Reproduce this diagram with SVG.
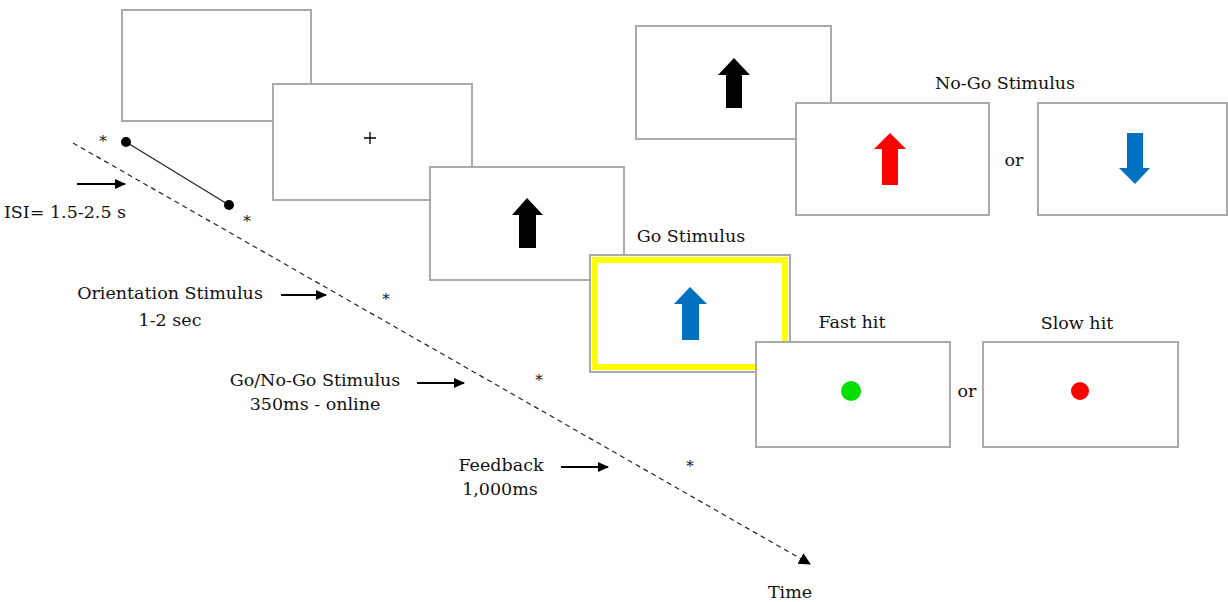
<svg xmlns="http://www.w3.org/2000/svg" width="1228" height="602" viewBox="0 0 1228 602">
<defs>
<style>
.box{fill:#fff;stroke:#aaa;stroke-width:2}
.t{font-family:"DejaVu Serif","Liberation Serif",serif;font-size:17.5px;fill:#111;text-anchor:middle}
.ast{font-family:"DejaVu Serif","Liberation Serif",serif;font-size:15px;fill:#111;text-anchor:middle}
.arr{stroke:#000;stroke-width:2;fill:none}
</style>
<marker id="ah" markerWidth="12" markerHeight="12" refX="10" refY="6" orient="auto" markerUnits="userSpaceOnUse">
<path d="M0,1 L11,6 L0,11 Z" fill="#000"/>
</marker>
<marker id="ah2" markerWidth="14" markerHeight="14" refX="11" refY="6" orient="auto" markerUnits="userSpaceOnUse">
<path d="M0,0 L12,6 L0,12 Z" fill="#000"/>
</marker>
</defs>
<rect width="1228" height="602" fill="#fff"/>

<g id="connectors">
<line x1="73" y1="143" x2="810" y2="564" stroke="#222" stroke-width="1.2" stroke-dasharray="5,4" marker-end="url(#ah2)"/>
<line x1="126" y1="142" x2="229" y2="205" stroke="#222" stroke-width="1.2"/>
<circle cx="126" cy="142" r="5" fill="#000"/>
<circle cx="229" cy="205" r="5" fill="#000"/>
<line class="arr" x1="77" y1="184" x2="125" y2="184" marker-end="url(#ah)"/>
<line class="arr" x1="281" y1="295" x2="326" y2="295" marker-end="url(#ah)"/>
<line class="arr" x1="417" y1="383" x2="464" y2="383" marker-end="url(#ah)"/>
<line class="arr" x1="561" y1="467" x2="608" y2="467" marker-end="url(#ah)"/>
</g>

<g id="asterisks">
<text class="ast" x="103" y="146">*</text>
<text class="ast" x="247" y="226">*</text>
<text class="ast" x="386" y="304">*</text>
<text class="ast" x="539" y="385">*</text>
<text class="ast" x="690" y="471">*</text>
</g>

<g id="labels">
<text class="t" x="65" y="218">ISI= 1.5-2.5 s</text>
<text class="t" x="170" y="299">Orientation Stimulus</text>
<text class="t" x="170" y="326">1-2 sec</text>
<text class="t" x="315" y="386">Go/No-Go Stimulus</text>
<text class="t" x="315" y="410">350ms - online</text>
<text class="t" x="501" y="471">Feedback</text>
<text class="t" x="500" y="495">1,000ms</text>
<text class="t" x="790" y="598">Time</text>
</g>

<g id="blank">
<rect class="box" x="122" y="10" width="189" height="111"/>
</g>
<g id="fixation">
<rect class="box" x="273" y="84" width="199" height="116"/>
<path d="M364,138 H376 M370,132 V144" stroke="#000" stroke-width="1.3"/>
</g>
<g id="orientation">
<rect class="box" x="430" y="167" width="194" height="113"/>
<path d="M527,198 L543,215 L536,215 L536,248 L519,248 L519,215 L512,215 Z" fill="#000"/>
</g>
<g id="go">
<rect class="box" x="590" y="255" width="200" height="117"/>
<rect x="595" y="260" width="190" height="107" fill="none" stroke="#ffff00" stroke-width="6"/>
<path d="M690,287 L707,304 L699,304 L699,340 L682,340 L682,304 L674,304 Z" fill="#0070c0"/>
<text class="t" x="691" y="242">Go Stimulus</text>
</g>
<g id="fast-hit">
<rect class="box" x="756" y="342" width="194" height="105"/>
<circle cx="851" cy="391" r="10" fill="#00e000"/>
<text class="t" x="852" y="328">Fast hit</text>
</g>
<text class="t" x="967" y="397">or</text>
<g id="slow-hit">
<rect class="box" x="983" y="342" width="195" height="105"/>
<circle cx="1080" cy="391" r="9" fill="#ff0000"/>
<text class="t" x="1077" y="329">Slow hit</text>
</g>
<g id="orientation-top">
<rect class="box" x="636" y="26" width="195" height="113"/>
<path d="M734,58 L750,75 L742,75 L742,108 L726,108 L726,75 L718,75 Z" fill="#000"/>
</g>
<g id="nogo-red">
<rect class="box" x="796" y="103" width="193" height="112"/>
<path d="M890,133 L906,149 L898,149 L898,185 L882,185 L882,149 L874,149 Z" fill="#ff0000"/>
<text class="t" x="1005" y="89">No-Go Stimulus</text>
</g>
<text class="t" x="1014" y="166">or</text>
<g id="nogo-blue">
<rect class="box" x="1038" y="103" width="189" height="112"/>
<path d="M1127,133 L1143,133 L1143,168 L1150,168 L1135,184 L1119,168 L1127,168 Z" fill="#0070c0"/>
</g>
</svg>
